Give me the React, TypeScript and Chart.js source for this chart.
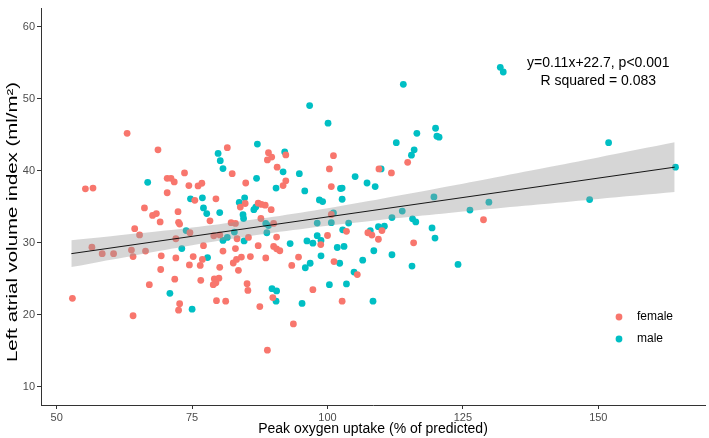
import React, { useEffect, useRef } from "react";
import { Chart, registerables } from "chart.js";

Chart.register(...registerables);

const FONT = '"Liberation Sans", Arial, Helvetica, sans-serif';

const xTicks = [50, 75, 100, 125, 150];
const yTicks = [10, 20, 30, 40, 50, 60];
const xRange = [47.1, 169.7];
const yRange = [7.5, 62.5];

const xTitle = "Peak oxygen uptake (% of predicted)";
const yTitle = "Left atrial volume index (ml/m\u00B2)";
const legendLabels = ["female", "male"];
const seriesColors = ["#F8766D", "#00BFC4"];
const annotationLines = ["y=0.11x+22.7, p<0.001", "R squared = 0.083"];
const annotationX = 150;
const annotationY = [55, 52.45];

const femalePoints: [number, number][] = [
  [63.0, 45.2], [68.7, 42.9], [55.3, 37.5], [56.7, 37.6], [70.4, 38.95], [71.1, 38.95],
  [71.7, 38.45], [73.6, 39.7], [74.4, 37.95], [76.1, 37.9], [70.4, 36.95], [75.5, 35.9],
  [66.2, 34.85], [67.7, 33.8], [68.4, 34.06], [72.4, 34.33], [69.1, 32.9], [72.5, 32.84],
  [72.7, 32.6], [64.4, 31.97], [65.3, 31.1], [74.6, 31.4], [72.0, 30.57],
  [56.5, 29.4], [58.4, 28.5], [60.5, 28.5], [63.8, 29.0], [64.1, 28.1], [66.4, 28.85],
  [69.3, 28.2], [72.0, 27.9], [75.2, 28.1], [74.5, 26.94], [69.2, 26.3], [71.8, 24.96],
  [67.1, 24.2], [52.9, 22.3], [72.7, 21.56], [72.5, 20.65], [64.1, 19.88],
  [81.5, 43.2], [82.4, 39.6], [89.1, 42.5], [89.7, 41.9], [88.9, 41.5], [92.3, 42.2],
  [90.7, 40.5], [84.9, 38.3], [92.3, 38.6], [91.8, 37.95], [101.1, 42.1], [100.35, 40.26],
  [100.7, 37.8], [76.8, 38.27], [79.4, 36.1], [78.3, 33.06], [84.8, 35.46], [83.9, 34.96],
  [87.2, 35.5], [87.8, 35.33], [88.5, 35.23], [89.6, 34.6], [87.7, 33.38], [82.2, 32.8],
  [83.0, 32.7], [90.05, 32.7], [79.0, 30.98], [80.1, 31.1], [83.3, 30.57], [85.4, 30.75],
  [90.6, 30.8], [100.0, 31.02], [100.7, 33.93], [103.5, 31.6],
  [77.1, 29.6], [83.0, 29.2], [80.7, 28.85], [87.2, 29.6], [90.05, 29.5], [90.6, 29.17],
  [91.2, 28.9], [98.75, 29.76], [76.9, 27.7], [76.5, 26.86], [83.2, 27.7], [82.6, 27.2],
  [84.1, 28.03], [85.76, 28.1], [88.6, 27.9], [80.1, 26.6], [83.55, 26.18], [94.65, 28.03],
  [93.4, 26.86], [101.2, 27.4], [105.5, 25.6], [76.6, 24.8], [79.1, 25.0], [79.95, 25.1],
  [79.4, 24.46], [78.9, 24.2], [85.15, 24.32], [85.3, 23.4], [89.9, 22.4], [97.3, 23.5],
  [79.5, 21.97], [81.2, 21.9], [87.5, 21.15], [102.7, 21.9], [93.7, 18.75], [88.9, 15.1],
  [114.8, 41.17], [109.5, 40.26], [111.8, 39.7], [128.8, 33.2], [110.05, 31.7], [107.45, 31.4],
  [108.2, 31.07], [109.4, 30.5], [115.9, 30.0],
];

const malePoints: [number, number][] = [
  [66.8, 38.4], [74.7, 36.1], [73.9, 31.7], [73.1, 29.2], [70.9, 23.0], [75.0, 20.8],
  [87.05, 43.7], [79.8, 42.4], [80.2, 41.4], [80.7, 40.3], [92.1, 42.6], [91.8, 39.85],
  [86.9, 38.95], [90.5, 37.6], [94.8, 39.6], [95.8, 37.2], [102.4, 37.54], [102.7, 37.6],
  [105.1, 39.2], [102.7, 36.05], [98.5, 35.96], [99.1, 35.73], [76.9, 36.24], [77.1, 34.85],
  [77.7, 34.06], [80.1, 34.2], [83.7, 35.6], [84.7, 36.24], [84.4, 33.9], [84.5, 33.38],
  [86.4, 34.6], [86.75, 34.96], [88.6, 32.7], [89.1, 32.4], [88.8, 31.4], [82.8, 31.5],
  [81.5, 30.75], [80.7, 30.34], [84.6, 30.26], [98.1, 32.74], [98.1, 31.0], [96.2, 30.26],
  [98.8, 30.34], [101.1, 34.15], [100.7, 32.8], [103.9, 32.74], [102.8, 31.8], [93.1, 29.9],
  [97.3, 29.95],
  [101.8, 29.35], [103.05, 29.5], [77.85, 27.95], [98.8, 28.2], [96.8, 27.17], [95.9, 26.54],
  [102.25, 27.17], [104.9, 25.95], [89.75, 23.64], [90.6, 23.33], [90.5, 21.9], [100.35, 24.2],
  [103.5, 24.3], [95.3, 21.6],
  [116.5, 45.2], [119.95, 45.9], [120.2, 44.8], [120.6, 44.66], [112.7, 43.9], [116.0, 42.9],
  [115.5, 42.16], [109.9, 40.26], [107.3, 38.3], [108.8, 37.8], [119.65, 36.37], [129.8, 35.64],
  [126.3, 34.55], [113.8, 34.4], [111.9, 33.5], [115.7, 33.33], [116.3, 32.9], [119.3, 32.07],
  [119.85, 30.66], [109.4, 32.24], [110.5, 32.3], [107.9, 31.7],
  [108.55, 28.9], [106.5, 27.6], [111.9, 28.35], [115.6, 26.77], [124.1, 27.0], [108.4, 21.9],
  [114.0, 52.0], [96.7, 49.05], [100.1, 46.6],
  [131.9, 54.35], [132.45, 53.7], [151.9, 43.9], [164.25, 40.5], [148.4, 36.0],
];

const fitX = [52.7, 164.1];
const fitY = [28.5, 40.5];

const bandX = [52.7, 60, 70, 80, 90, 100, 110, 120, 130, 140, 150, 164.1];
const bandLower = [26.63, 27.66, 29.02, 30.29, 31.41, 32.38, 33.22, 33.98, 34.71, 35.4, 36.09, 37.04];
const bandUpper = [30.37, 30.92, 31.7, 32.59, 33.61, 34.8, 36.12, 37.5, 38.93, 40.38, 41.85, 43.94];

const overlayPlugin = {
  id: "overlay",
  afterDatasetsDraw(chart: any) {
    const { ctx, scales, chartArea } = chart;
    const xs = scales.x;
    const ys = scales.y;
    ctx.save();
    ctx.fillStyle = "#000000";
    ctx.font = `14px ${FONT}`;
    ctx.textAlign = "center";
    ctx.textBaseline = "middle";
    annotationLines.forEach((t, i) => {
      ctx.fillText(t, xs.getPixelForValue(annotationX), ys.getPixelForValue(annotationY[i]));
    });
    // legend
    const dotX = chartArea.right - 86;
    const rowY = [chartArea.bottom - 88, chartArea.bottom - 66];
    ctx.font = `12px ${FONT}`;
    ctx.textAlign = "left";
    legendLabels.forEach((lab, i) => {
      ctx.beginPath();
      ctx.fillStyle = seriesColors[i];
      ctx.arc(dotX, rowY[i], 3.4, 0, Math.PI * 2);
      ctx.fill();
      ctx.fillStyle = "#000000";
      ctx.fillText(lab, dotX + 18, rowY[i]);
    });
    // y axis title (stretched along its length like the reference)
    ctx.font = `14px ${FONT}`;
    ctx.textAlign = "center";
    ctx.textBaseline = "middle";
    ctx.translate(13, 222);
    ctx.rotate(-Math.PI / 2);
    const w = ctx.measureText(yTitle).width;
    ctx.scale(280 / w, 1);
    ctx.fillText(yTitle, 0, 0);
    ctx.restore();
  },
};

export default function App() {
  const ref = useRef<HTMLCanvasElement | null>(null);
  useEffect(() => {
    document.body.style.margin = "0";
    const canvas = ref.current;
    if (!canvas) return;
    const toXY = (pts: [number, number][]) => pts.map(([x, y]) => ({ x, y }));
    const chart = new Chart(canvas, {
      type: "scatter",
      data: {
        datasets: [
          {
            type: "line",
            label: "fit",
            data: fitX.map((x, i) => ({ x, y: fitY[i] })),
            borderColor: "#000000",
            borderWidth: 0.9,
            pointRadius: 0,
            fill: false,
            order: 0,
          } as any,
          {
            type: "line",
            label: "upper",
            data: bandX.map((x, i) => ({ x, y: bandUpper[i] })),
            borderWidth: 0,
            borderColor: "rgba(0,0,0,0)",
            backgroundColor: "rgba(153,153,153,0.4)",
            pointRadius: 0,
            tension: 0.3,
            fill: "+1",
            order: 1,
          } as any,
          {
            type: "line",
            label: "lower",
            data: bandX.map((x, i) => ({ x, y: bandLower[i] })),
            borderWidth: 0,
            borderColor: "rgba(0,0,0,0)",
            pointRadius: 0,
            tension: 0.3,
            fill: false,
            order: 1,
          } as any,
          {
            label: legendLabels[0],
            data: toXY(femalePoints),
            backgroundColor: seriesColors[0],
            borderWidth: 0,
            pointRadius: 3.4,
            order: 2,
          },
          {
            label: legendLabels[1],
            data: toXY(malePoints),
            backgroundColor: seriesColors[1],
            borderWidth: 0,
            pointRadius: 3.4,
            order: 2,
          },
        ],
      },
      options: {
        animation: false,
        responsive: false,
        devicePixelRatio: 1,
        layout: { padding: { left: 0, right: 1, top: 0, bottom: 0 } },
        plugins: { legend: { display: false }, tooltip: { enabled: false } },
        scales: {
          x: {
            type: "linear",
            min: xRange[0],
            max: xRange[1],
            afterBuildTicks: (s: any) => {
              s.ticks = xTicks.map((v) => ({ value: v }));
            },
            afterFit: (s: any) => {
              s.height = 33;
            },
            ticks: {
              color: "#4d4d4d",
              font: { size: 11, family: FONT },
              padding: 2,
              maxRotation: 0,
              autoSkip: false,
            },
            grid: { drawOnChartArea: false, drawTicks: true, tickLength: 4, color: "#333333" },
            border: { display: true, color: "#333333", width: 1 },
            title: {
              display: true,
              text: xTitle,
              color: "#000000",
              font: { size: 14, family: FONT },
              padding: { top: 0, bottom: 0 },
            },
          },
          y: {
            type: "linear",
            min: yRange[0],
            max: yRange[1],
            afterBuildTicks: (s: any) => {
              s.ticks = yTicks.map((v) => ({ value: v }));
            },
            afterFit: (s: any) => {
              s.width = 41;
            },
            ticks: {
              color: "#4d4d4d",
              font: { size: 11, family: FONT },
              padding: 2,
              autoSkip: false,
            },
            grid: { drawOnChartArea: false, drawTicks: true, tickLength: 4, color: "#333333" },
            border: { display: true, color: "#333333", width: 1 },
            title: { display: false, text: yTitle },
          },
        },
      },
      plugins: [overlayPlugin],
    });
    return () => chart.destroy();
  }, []);
  return (
    <div style={{ position: "absolute", left: 0, top: 0, width: 709, height: 438 }}>
      <canvas ref={ref} width={709} height={438} style={{ display: "block" }} />
    </div>
  );
}
